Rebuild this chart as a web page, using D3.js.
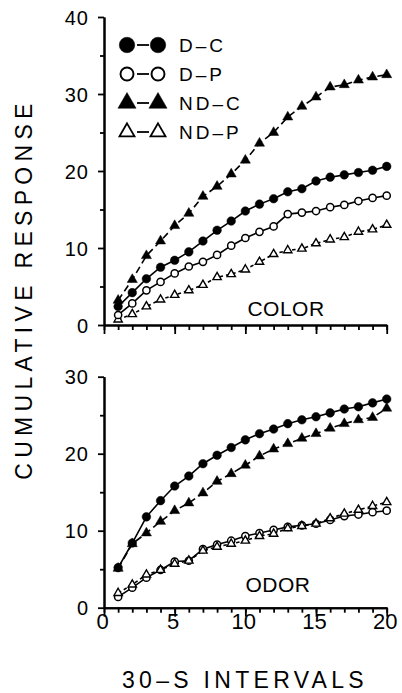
<!DOCTYPE html>
<html>
<head>
<meta charset="utf-8">
<script src="https://cdn.jsdelivr.net/npm/d3@7"></script>
<style>
  html, body { margin: 0; padding: 0; background: #fff; }
  svg { display: block; }
  text { font-family: "Liberation Sans", Arial, sans-serif; fill: #000; }
</style>
</head>
<body>
<svg id="chart" width="402" height="693"></svg>
<script>
// 30-s intervals
const intervals = [1,2,3,4,5,6,7,8,9,10,11,12,13,14,15,16,17,18,19,20];

// COLOR panel, cumulative responses
const colorDC  = [2.4,4.2,6.0,7.5,8.4,9.5,10.9,12.3,13.5,14.8,15.7,16.4,17.3,17.7,18.7,19.2,19.5,19.8,20.1,20.6];
const colorDP  = [1.3,2.8,4.5,5.6,6.7,7.6,8.2,9.1,10.3,11.3,12.1,12.8,14.4,14.6,14.8,15.3,15.6,16.1,16.5,16.8];
const colorNDC = [3.2,5.9,9.0,10.9,12.9,14.5,16.7,18.0,19.6,21.4,23.6,25.0,27.0,28.4,29.6,30.9,31.2,31.8,32.2,32.5];
const colorNDP = [0.7,1.4,2.4,3.3,3.9,4.5,5.2,6.2,6.6,7.2,8.2,9.2,9.7,9.9,10.6,11.1,11.4,12.1,12.4,13.0];

// ODOR panel, cumulative responses
const odorDC  = [5.2,8.4,11.8,13.9,15.8,17.1,18.7,19.8,20.8,21.8,22.6,23.2,23.9,24.4,24.8,25.3,25.8,26.1,26.6,27.1];
const odorDP  = [1.4,2.6,3.9,4.9,6.0,6.1,7.6,8.2,8.7,9.3,9.7,10.1,10.5,10.7,10.9,11.4,11.9,12.1,12.4,12.6];
const odorNDC = [5.1,8.3,9.7,11.2,12.6,13.6,14.9,16.4,17.4,18.5,19.7,20.6,21.3,22.0,22.6,23.3,23.9,24.4,24.7,25.9];
const odorNDP = [1.9,3.0,4.3,4.9,5.7,6.1,7.4,7.9,8.3,8.7,9.3,9.6,10.3,10.6,10.9,11.6,12.2,12.7,13.2,13.7];

// axis ticks
const xMajor = [0,5,10,15,20];
const colorMajor = [0,10,20,30,40];
const colorMinor = [5,15,25,35];
const odorMajor = [0,10,20,30];
const odorMinor = [5,15,25];

const groupNames = ["D\u2013C","D\u2013P","ND\u2013C","ND\u2013P"];

const styles = {
  "D\u2013C":  {shape: "circle",   filled: true,  dash: null},
  "D\u2013P":  {shape: "circle",   filled: false, dash: null},
  "ND\u2013C": {shape: "triangle", filled: true,  dash: "7,4"},
  "ND\u2013P": {shape: "triangle", filled: false, dash: "3.5,3"}
};

const svg = d3.select("#chart");

const x = d3.scaleLinear().domain([0, 20]).range([104, 386.7]);
const yColor = d3.scaleLinear().domain([0, 40]).range([325, 17]);
const yOdor = d3.scaleLinear().domain([0, 30]).range([607.7, 376.7]);

function styleAxis(g) {
  g.select(".domain").attr("stroke", "#000").attr("stroke-width", 2);
  g.selectAll(".tick line").attr("stroke", "#000").attr("stroke-width", 1.8);
}

function drawAxes(y, major, minor, withXLabels) {
  const y0 = y(0);
  // x axis
  svg.append("g").attr("transform", `translate(0,${y0})`)
    .call(d3.axisBottom(x).tickValues(intervals.concat([0])).tickSize(5).tickSizeOuter(0).tickFormat(""))
    .call(styleAxis);
  const gx = svg.append("g").attr("transform", `translate(0,${y0})`)
    .call(d3.axisBottom(x).tickValues(xMajor).tickSize(9).tickSizeOuter(0).tickPadding(8)
      .tickFormat(withXLabels ? d3.format("d") : ""))
    .call(styleAxis);
  gx.selectAll(".tick text")
    .attr("font-size", 22).attr("dx", -2).attr("dy", "0.2em")
    .style("font-family", '"Liberation Sans", Arial, sans-serif');
  // y axis
  svg.append("g").attr("transform", `translate(${x(0)},0)`)
    .call(d3.axisLeft(y).tickValues(minor).tickSize(4).tickSizeOuter(0).tickFormat(""))
    .call(styleAxis);
  const gy = svg.append("g").attr("transform", `translate(${x(0)},0)`)
    .call(d3.axisLeft(y).tickValues(major).tickSize(6).tickSizeOuter(0).tickPadding(9).tickFormat(d3.format("d")))
    .call(styleAxis);
  gy.selectAll(".tick text")
    .attr("font-size", 20).attr("dy", "0.36em").attr("letter-spacing", 1)
    .style("font-family", '"Liberation Sans", Arial, sans-serif');
}

function drawMarker(g, name, cx, cy, scale) {
  const st = styles[name];
  if (st.shape === "circle") {
    const r = (st.filled ? 4.3 : 3.6) * scale;
    g.append("circle").attr("cx", cx).attr("cy", cy).attr("r", r)
      .attr("fill", st.filled ? "#000" : "#fff")
      .attr("stroke", "#000").attr("stroke-width", st.filled ? 0.5 : 1.5 * Math.min(scale, 1.3));
  } else {
    const area = (st.filled ? 44 : 30) * scale * scale;
    g.append("path").attr("d", d3.symbol(d3.symbolTriangle, area)())
      .attr("transform", `translate(${cx},${cy})`)
      .attr("fill", st.filled ? "#000" : "#fff")
      .attr("stroke", "#000").attr("stroke-width", st.filled ? 0.5 : 1.4 * Math.min(scale, 1.3))
      .attr("stroke-linejoin", "miter");
  }
}

function drawPanel(y, seriesMap, order) {
  const line = d3.line().x((d, i) => x(intervals[i])).y(d => y(d));
  const g = svg.append("g");
  order.forEach(name => {
    g.append("path").datum(seriesMap[name])
      .attr("d", line).attr("fill", "none")
      .attr("stroke", "#000").attr("stroke-width", 1.6)
      .attr("stroke-dasharray", styles[name].dash);
  });
  order.forEach(name => {
    seriesMap[name].forEach((v, i) => drawMarker(g, name, x(intervals[i]), y(v), 1));
  });
}

// panels
drawAxes(yColor, colorMajor, colorMinor, false);
drawAxes(yOdor, odorMajor, odorMinor, true);

drawPanel(yColor, {
  "D\u2013C": colorDC, "D\u2013P": colorDP, "ND\u2013C": colorNDC, "ND\u2013P": colorNDP
}, ["ND\u2013P", "D\u2013P", "D\u2013C", "ND\u2013C"]);

drawPanel(yOdor, {
  "D\u2013C": odorDC, "D\u2013P": odorDP, "ND\u2013C": odorNDC, "ND\u2013P": odorNDP
}, ["D\u2013P", "ND\u2013P", "ND\u2013C", "D\u2013C"]);

// legend
const legend = svg.append("g");
groupNames.forEach((name, i) => {
  const cy = 45 + i * 29;
  legend.append("line").attr("x1", 137).attr("x2", 149).attr("y1", cy).attr("y2", cy)
    .attr("stroke", "#000").attr("stroke-width", 1.8);
  drawMarker(legend, name, 127, cy, 1.8);
  drawMarker(legend, name, 158, cy, 1.8);
  legend.append("text").attr("x", 179).attr("y", cy + 7)
    .attr("font-size", 19).attr("letter-spacing", 3).text(name);
});

// panel labels
svg.append("text").attr("x", 286).attr("y", 316).attr("text-anchor", "middle")
  .attr("font-size", 21).attr("letter-spacing", 0.5).text("COLOR");
svg.append("text").attr("x", 278).attr("y", 592).attr("text-anchor", "middle")
  .attr("font-size", 21).attr("letter-spacing", 0.5).text("ODOR");

// axis titles
svg.append("text").attr("x", 245).attr("y", 688).attr("text-anchor", "middle")
  .attr("font-size", 23).attr("letter-spacing", 4.3).text("30\u2013S INTERVALS");
svg.append("text").attr("transform", "translate(32,289) rotate(-90)")
  .attr("text-anchor", "middle").attr("font-size", 23).attr("letter-spacing", 5.3)
  .text("CUMULATIVE RESPONSE");
</script>
</body>
</html>
